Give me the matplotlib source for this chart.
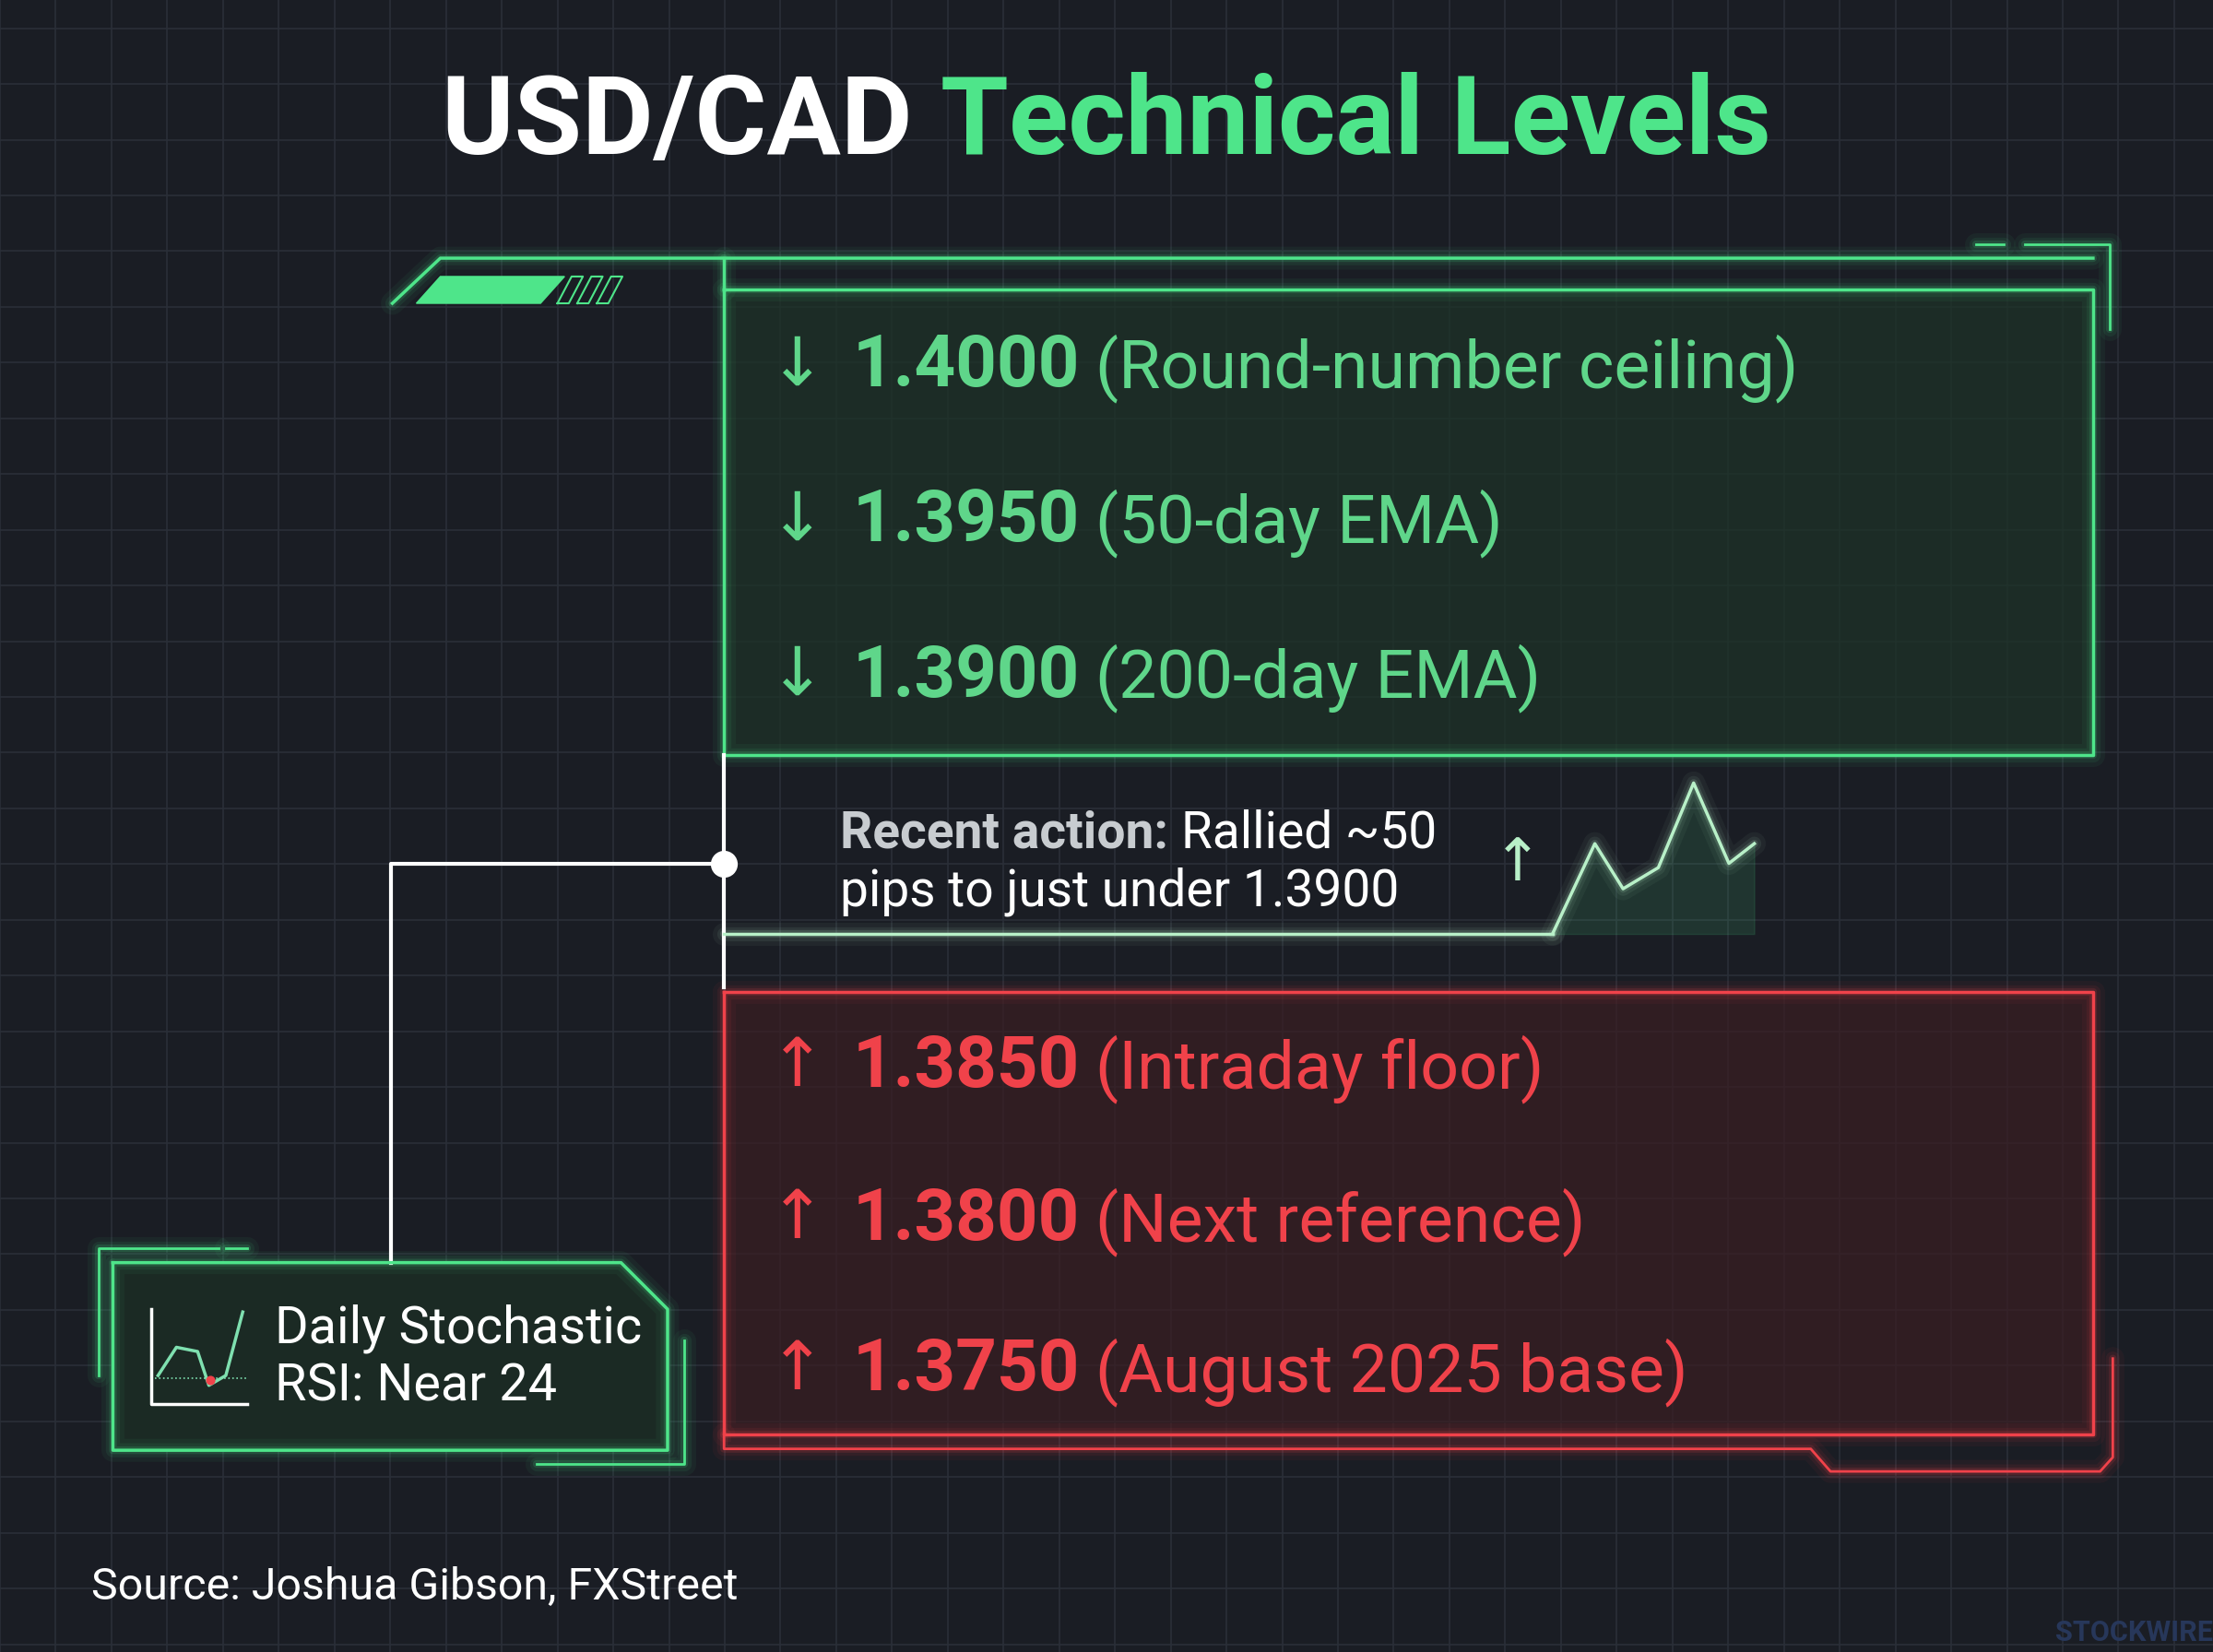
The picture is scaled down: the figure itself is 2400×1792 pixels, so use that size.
import matplotlib
matplotlib.use("Agg")
import matplotlib.pyplot as plt
from matplotlib.patches import Polygon, Rectangle
import numpy as np

resistance_values = ["1.4000", "1.3950", "1.3900"]
resistance_labels = ["(Round-number ceiling)", "(50-day EMA)", "(200-day EMA)"]
support_values = ["1.3850", "1.3800", "1.3750"]
support_labels = ["(Intraday floor)", "(Next reference)", "(August 2025 base)"]
spark_x = [1100, 1130, 1150, 1175, 1200, 1225, 1243]
spark_y = [662, 598, 630, 615, 555, 612, 598]

W, H = 1568, 1171
S = 2400 / W
def fs(px):
    return px * S * 0.72

plt.rcParams['font.family'] = ['Roboto', 'DejaVu Sans']
BG = '#1a1d24'
GREEN = '#4ee58a'
GREEN_T = '#5fd68a'
RED = '#f0424a'
fig = plt.figure(figsize=(24, 17.92), dpi=100, facecolor=BG)
ax = fig.add_axes([0, 0, 1, 1])
ax.set_xlim(0, W); ax.set_ylim(H, 0); ax.axis('off')
ax.set_facecolor(BG)
for g in np.arange(0, W, 39.5):
    ax.axvline(g, color='#2a2f38', lw=1.2, zorder=0)
for g in np.arange(20, H, 39.5):
    ax.axhline(g, color='#2a2f38', lw=1.2, zorder=0)

def glow(xs, ys, color, lw=2.5, z=3):
    for w, a in [(18, 0.05), (11, 0.08), (6, 0.15)]:
        ax.plot(xs, ys, color=color, lw=w, alpha=a, solid_capstyle='round', zorder=z)
    ax.plot(xs, ys, color=color, lw=lw, zorder=z + 1)

# title
t1 = ax.text(0, 0, "USD/CAD ", fontsize=fs(78), fontweight='bold', color='white', va='center')
fig.canvas.draw()
r = fig.canvas.get_renderer()
w1 = t1.get_window_extent(r).width
t2 = ax.text(0, 0, "Technical Levels", fontsize=fs(78), fontweight='bold', color=GREEN, va='center')
w2 = t2.get_window_extent(r).width
tot = (w1 + w2) / S
x0 = 784 - tot / 2
t1.set_position((x0, 88)); t2.set_position((x0 + w1 / S, 88))

# green box
ax.add_patch(Rectangle((513, 205), 970, 330, facecolor='#1d3327', edgecolor='none', alpha=0.7, zorder=1))
glow([513, 1483, 1483, 513, 513], [205, 205, 535, 535, 205], GREEN)
glow([278, 312, 1483], [215, 183, 183], GREEN)
glow([513, 513], [183, 205], GREEN)
glow([1400, 1420], [173, 173], GREEN, lw=2)
glow([1435, 1495, 1495], [173, 173, 233], GREEN, lw=2)
ax.add_patch(Polygon([[295, 215], [312, 196], [400, 196], [383, 215]], color=GREEN, zorder=4))
for k in range(3):
    xx = 405 + k * 14
    ax.plot([xx - 10, xx, xx + 8, xx - 2, xx - 10], [215, 196, 196, 215, 215], color=GREEN, lw=1.5, zorder=4)

def level_rows(vals, labs, ys, arrow, color):
    for v, l, y in zip(vals, labs, ys):
        ax.text(565, y, arrow, fontsize=fs(48), color=color, va='center', ha='center')
        ax.text(604, y, v, fontsize=fs(51), color=color, fontweight='bold', va='center')
        ax.text(776, y + 1, l, fontsize=fs(48), color=color, va='center')

level_rows(resistance_values, resistance_labels, [260, 370, 480], "↓", GREEN_T)

# red box
ax.add_patch(Rectangle((513, 703), 970, 314, facecolor='#3a1d22', edgecolor='none', alpha=0.7, zorder=1))
glow([513, 1483, 1483, 513, 513], [703, 703, 1017, 1017, 703], RED)
glow([513, 513, 1283, 1297, 1488, 1497, 1497], [1017, 1027, 1027, 1043, 1043, 1033, 963], RED, lw=2)
level_rows(support_values, support_labels, [757, 865, 972], "↑", RED)

# middle connector
ax.plot([513, 513], [535, 700], color='white', lw=3, zorder=4)
ax.plot([513, 277, 277], [612, 612, 895], color='white', lw=3, zorder=4)
ax.scatter([513], [612], s=400, color='white', zorder=5)
ax.text(595, 591, "Recent action:", fontsize=fs(36), fontweight='bold', color='#c8ccd0', va='center')
ax.text(837, 591, "Rallied ~50", fontsize=fs(36), color='white', va='center')
ax.text(595, 632, "pips to just under 1.3900", fontsize=fs(36), color='white', va='center')
ax.text(1075, 612, "↑", fontsize=fs(42), color='#b8f0c8', va='center', ha='center')
glow([513] + spark_x[:1], [662, 662], '#b8f0c8', lw=2.5)
glow(spark_x, spark_y, '#b8f0c8', lw=2.5)
ax.fill_between(spark_x, spark_y, 662, color=GREEN, alpha=0.12, zorder=2)

# stochastic box
pts = [[80, 895], [440, 895], [473, 928], [473, 1028], [80, 1028], [80, 895]]
ax.add_patch(Polygon(pts[:-1], facecolor='#1b2a24', edgecolor='none', zorder=1))
glow([p[0] for p in pts], [p[1] for p in pts], GREEN)
glow([70, 70, 155], [975, 885, 885], GREEN, lw=2)
glow([160, 175], [885, 885], GREEN, lw=2)
glow([485, 485, 380], [950, 1038, 1038], GREEN, lw=2)
ax.plot([107, 107, 175], [928, 995, 995], color='white', lw=2.5, zorder=5)
ax.plot([112, 125, 140, 148, 160, 172], [975, 955, 958, 982, 975, 930], color='#7fe0b0', lw=2.5, zorder=5)
ax.plot([110, 175], [977, 977], color='#7fe0b0', lw=1.2, ls=':', zorder=5)
ax.scatter([149], [978], s=40, color=RED, zorder=6)
ax.text(195, 942, "Daily Stochastic", fontsize=fs(36.5), color='white', va='center')
ax.text(195, 983, "RSI: Near 24", fontsize=fs(36.5), color='white', va='center')

ax.text(65, 1125, "Source: Joshua Gibson, FXStreet", fontsize=fs(31.5), color='white', va='center')
ax.text(1568, 1157, "STOCKWIRE", fontsize=fs(20), color='#27375a', fontweight='bold', va='center', ha='right')

fig.savefig("out.png", dpi=100, facecolor=BG)
